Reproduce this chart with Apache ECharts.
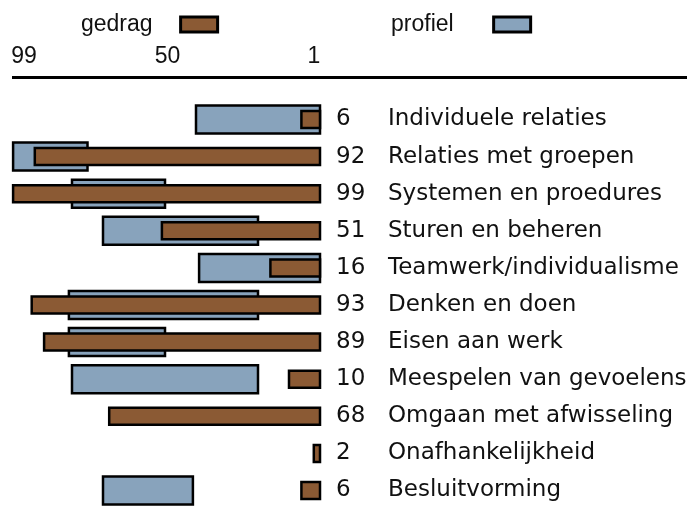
<!DOCTYPE html>
<html>
<head>
<meta charset="utf-8">
<script src="https://cdn.jsdelivr.net/npm/echarts@6/dist/echarts.min.js"></script>
<style>
  html, body { margin: 0; padding: 0; background: #fff; }
  #chartWrap { width: 687px; height: 506px; }
</style>
</head>
<body>
<div id="chartWrap"></div>
<script>
// categorieen (van boven naar beneden)
var categories = ['Individuele relaties', 'Relaties met groepen', 'Systemen en proedures',
  'Sturen en beheren', 'Teamwerk/individualisme', 'Denken en doen', 'Eisen aan werk',
  'Meespelen van gevoelens', 'Omgaan met afwisseling', 'Onafhankelijkheid', 'Besluitvorming'];

// gedrag score per categorie
var gedrag = [6, 92, 99, 51, 16, 93, 89, 10, 68, 2, 6];

// profiel bandbreedte (van / tot), null = geen profiel
var profielVan = [0, 75, 50, 20, 0, 20, 50, 20, null, null, 41];
var profielTot = [40, 99, 80, 70, 39, 81, 81, 80, null, null, 70];

// schaal labels
var tickLabels = [99, 50, 1];

var BROWN = '#8b5a34';
var BLUE = '#88a3bc';

var profielData = [];
var gedragData = [];
for (var i = 0; i < categories.length; i++) {
  if (profielVan[i] !== null) {
    profielData.push([profielVan[i], profielTot[i], i]);
  }
  gedragData.push([0, gedrag[i], i]);
}

function barRenderer(h, fill) {
  return function(params, api) {
    var a = api.coord([api.value(0), api.value(2)]);
    var b = api.coord([api.value(1), api.value(2)]);
    return {
      type: 'rect',
      shape: {
        x: Math.min(a[0], b[0]),
        y: a[1] - h / 2,
        width: Math.abs(b[0] - a[0]),
        height: h
      },
      style: { fill: fill, stroke: '#000', lineWidth: 2.5 }
    };
  };
}

var tickFont = { fontFamily: 'Liberation Sans', fontSize: 23, color: '#111' };
// padding per label om de positie te corrigeren
var tickRich = {
  t99: Object.assign({ padding: [0, 0, 0, 22] }, tickFont),
  t50: Object.assign({ padding: [0, 0, 0, 5] }, tickFont),
  t1: Object.assign({ padding: [0, 6, 0, 0] }, tickFont)
};

var legendText = { fontFamily: 'Liberation Sans', fontSize: 23, color: '#111' };

var myChart = echarts.init(document.getElementById('chartWrap'));
myChart.setOption({
  animation: false,
  backgroundColor: '#fff',
  legend: [{
    data: ['gedrag'],
    left: 76, top: 8,
    align: 'right',
    icon: 'rect',
    itemWidth: 37, itemHeight: 15,
    itemStyle: { borderColor: '#000', borderWidth: 3 },
    textStyle: Object.assign({ padding: [0, 23, 0, 0] }, legendText),
    selectedMode: false
  }, {
    data: ['profiel'],
    left: 386, top: 8,
    align: 'right',
    icon: 'rect',
    itemWidth: 37, itemHeight: 15,
    itemStyle: { borderColor: '#000', borderWidth: 3 },
    textStyle: Object.assign({ padding: [0, 35, 0, 0] }, legendText),
    selectedMode: false
  }],
  grid: { left: 10, right: 367, top: 119.5, bottom: 15.5, containLabel: false, outerBoundsMode: 'none' },
  xAxis: {
    type: 'value',
    inverse: true,
    position: 'top',
    min: 0, max: 100, interval: 1,
    axisLine: { show: false },
    axisTick: { show: false },
    splitLine: { show: false },
    axisLabel: {
      margin: 51,
      fontFamily: 'Liberation Sans',
      fontSize: 23,
      color: '#111',
      rich: tickRich,
      formatter: function(v) {
        if (tickLabels.indexOf(v) < 0) return '';
        return '{t' + v + '|' + v + '}';
      }
    }
  },
  yAxis: {
    type: 'category',
    data: categories,
    inverse: true,
    boundaryGap: false,
    position: 'right',
    axisLine: { show: false },
    axisTick: { show: false },
    splitLine: { show: false },
    axisLabel: {
      margin: 16,
      align: 'left',
      formatter: function(value, idx) {
        return '{n|' + gedrag[idx] + '}{c|' + value + '}';
      },
      rich: {
        n: { width: 52, fontFamily: 'DejaVu Sans', fontSize: 23, color: '#111' },
        c: { fontFamily: 'DejaVu Sans', fontSize: 23, color: '#111' }
      }
    }
  },
  graphic: [{
    type: 'line',
    shape: { x1: 12, y1: 77.5, x2: 687, y2: 77.5 },
    style: { stroke: '#000', lineWidth: 3 }
  }],
  series: [{
    name: 'profiel',
    type: 'custom',
    clip: false,
    itemStyle: { color: BLUE, borderColor: '#000', borderWidth: 2.5 },
    encode: { x: [0, 1], y: 2 },
    renderItem: barRenderer(28, BLUE),
    data: profielData
  }, {
    name: 'gedrag',
    type: 'custom',
    clip: false,
    itemStyle: { color: BROWN, borderColor: '#000', borderWidth: 2.5 },
    encode: { x: [0, 1], y: 2 },
    renderItem: barRenderer(17, BROWN),
    data: gedragData
  }]
});
</script>
</body>
</html>
